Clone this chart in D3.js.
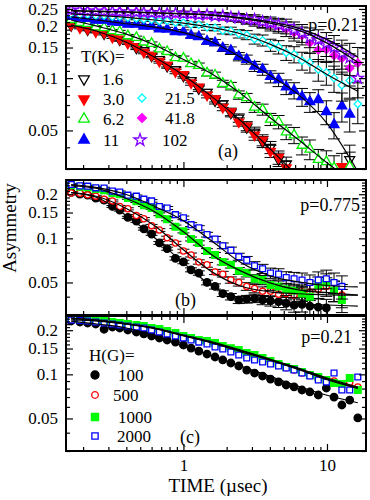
<!DOCTYPE html>
<html>
<head>
<meta charset="utf-8">
<script src="https://cdn.jsdelivr.net/npm/d3@7"></script>
<style>
body { margin: 0; background: #fff; }
text { font-family: "Liberation Serif", "Times New Roman", serif; fill: #000; }
</style>
</head>
<body>
<div id="chart"></div>
<script>
var width = 370, height = 500;

// time grid (usec) shared by the data sets
var times = [0.165,0.19,0.215,0.245,0.28,0.32,0.36,0.41,0.47,0.53,0.6,0.68,0.77,0.88,1.0,1.13,1.28,1.46,1.66,1.88,2.14,2.43,2.76,3.13,3.56,4.04,4.6,5.2,5.9,6.7,7.6,8.7,9.9,11.2,12.7,14.4,16.4];
var fitTimes = [0.165,0.25,0.4,0.63,1.0,1.6,2.5,4.0,6.3,10,16.4];

// panel (a): p=0.21, temperatures
var tempLabels = ["1.6","3.0","6.2","11","21.5","41.8","102"];
var a_1_6  = [0.201,0.198,0.190,0.187,0.180,0.176,0.166,0.162,0.149,0.144,0.134,0.128,0.117,0.112,0.103,0.097,0.087,0.083,0.074,0.071,0.063,0.059,0.052,0.049,0.043,0.040,0.034,0.032,null,null,null,null,null,null,null,0.034,null];
var a_3_0  = [0.203,0.195,0.192,0.185,0.183,0.172,0.168,0.159,0.152,0.141,0.136,0.125,0.119,0.109,0.105,0.094,0.089,0.080,0.076,0.068,0.064,0.056,0.053,0.047,0.044,0.038,0.035,0.0305,null,null,null,null,null,null,0.031,null,null];
var a_6_2  = [0.217,0.209,0.206,0.197,0.195,0.187,0.185,0.175,0.171,0.161,0.158,0.147,0.142,0.131,0.130,0.121,0.118,0.107,0.104,0.093,0.090,0.080,0.077,0.068,0.066,0.058,0.056,0.049,0.047,0.041,0.039,0.034,0.033,0.0305,null,0.031,null];
var a_11   = [0.226,0.221,0.220,0.215,0.215,0.210,0.209,0.204,0.204,0.199,0.199,0.192,0.191,0.185,0.184,0.176,0.173,0.163,0.160,0.149,0.144,0.133,0.128,0.117,0.112,0.102,0.098,0.089,0.085,0.078,0.073,0.075,0.064,0.054,0.069,0.062,null];
var a_21_5 = [0.235,0.232,0.232,0.229,0.229,0.226,0.226,0.223,0.221,0.218,0.217,0.213,0.214,0.209,0.208,0.203,0.203,0.196,0.195,0.188,0.187,0.180,0.177,0.168,0.165,0.155,0.151,0.140,0.137,0.126,0.123,0.112,0.108,0.100,0.091,0.097,0.071];
var a_41_8 = [0.246,0.244,0.244,0.242,0.244,0.241,0.242,0.239,0.241,0.238,0.239,0.236,0.237,0.235,0.236,0.233,0.233,0.230,0.230,0.226,0.225,0.221,0.218,0.213,0.209,0.203,0.199,0.192,0.183,0.176,0.160,0.145,0.146,0.135,0.130,0.114,0.122];
var a_102  = [0.247,0.245,0.243,0.243,0.242,0.242,0.240,0.240,0.239,0.239,0.237,0.237,0.235,0.236,0.234,0.234,0.231,0.232,0.228,0.228,0.224,0.223,0.218,0.217,0.211,0.208,0.203,0.199,0.190,0.182,0.172,0.166,0.158,0.150,0.139,0.131,0.100];
var errA   = [0.015,0.015,0.015,0.016,0.016,0.017,0.018,0.019,0.02,0.021,0.022,0.024,0.026,0.028,0.03,0.032,0.035,0.038,0.041,0.045,0.05,0.055,0.06,0.066,0.073,0.08,0.088,0.097,0.107,0.118,0.13,0.143,0.157,0.172,0.19,0.21,0.23];
var fitA_low  = [0.202,0.186,0.161,0.132,0.104,0.0775,0.057,0.0393,0.027,null,null];
var fitA_6_2  = [0.216,0.199,0.179,0.155,0.128,0.105,0.0817,0.0594,0.0443,0.0326,0.024];
var fitA_11   = [0.225,0.216,0.2055,0.1965,0.1827,0.161,0.132,0.104,0.0806,0.0549,0.029];
var fitA_21_5 = [0.234,0.2295,0.2235,0.216,0.207,0.195,0.180,0.157,0.132,0.105,0.084];
var fitA_41_8 = [0.2434,0.2418,0.240,0.237,0.234,0.2295,0.2205,0.207,0.189,0.159,0.1235];
var fitA_102  = [0.245,0.243,0.241,0.238,0.235,0.231,0.223,0.211,0.194,0.167,0.132];

// panel (b): p=0.775, fields
var fieldLabels = ["100","500","1000","2000"];
var b_100  = [0.206,0.200,0.197,0.188,0.182,0.165,0.156,0.139,0.131,0.116,0.107,0.093,0.085,0.073,0.069,0.061,0.058,0.050,0.047,0.042,0.040,0.038,0.0385,0.039,0.038,0.0375,0.037,0.036,0.035,0.0355,0.0345,0.034,0.0335,null,null];
var b_500  = [0.204,0.203,0.198,0.194,0.185,0.180,0.165,0.159,0.143,0.136,0.122,0.114,0.101,0.093,0.082,0.077,0.069,0.066,0.059,0.057,0.052,0.050,0.047,0.0455,0.0435,0.0435,0.0415,0.042,0.041,0.043,0.043,0.045,0.047,0.044,0.041];
var b_1000 = [0.230,0.225,0.223,0.217,0.213,0.204,0.200,0.188,0.179,0.168,0.161,0.146,0.135,0.120,0.112,0.099,0.093,0.082,0.077,0.069,0.066,0.060,0.058,0.053,0.052,0.048,0.047,0.045,0.044,0.042,0.040,0.048,0.050,0.044,0.038];
var b_2000 = [0.233,0.228,0.227,0.221,0.220,0.210,0.207,0.197,0.194,0.185,0.180,0.165,0.161,0.145,0.138,0.124,0.118,0.106,0.099,0.089,0.083,0.075,0.071,0.065,0.062,0.058,0.057,0.054,0.053,0.052,0.050,0.052,0.053,0.050,0.047];
var errB   = [0.012,0.012,0.013,0.013,0.014,0.015,0.016,0.017,0.018,0.019,0.02,0.022,0.024,0.026,0.028,0.031,0.034,0.037,0.041,0.045,0.05,0.055,0.06,0.066,0.072,0.08,0.088,0.096,0.105,0.115,0.125,0.135,0.145,0.16,0.18];
var fitB_100  = [0.205,0.190,0.143,0.101,0.068,0.047,0.0392,0.0368,0.0356,0.0351,0.0345];
var fitB_500  = [0.205,0.193,0.160,0.122,0.0835,0.0586,0.0473,0.0432,0.0419,0.0412,0.041];
var fitB_1000 = [0.229,0.219,0.187,0.152,0.111,0.0765,0.060,0.0497,0.0445,0.0426,0.041];
var fitB_2000 = [0.233,0.222,0.199,0.165,0.132,0.0948,0.0686,0.0555,0.0505,0.0477,0.0466];

// panel (c): p=0.21, fields
var c_100  = [0.2311,0.2275,0.224,0.2205,0.203,0.2103,0.207,0.2006,0.1944,0.1885,0.1826,0.177,0.1715,0.166,0.1585,0.151,0.1442,0.1376,0.1313,0.1253,0.1195,0.114,0.107,0.1021,0.0974,0.0929,0.0887,0.0846,0.082,0.0782,0.0758,0.0723,0.0807,0.070,0.0618,0.0668,0.0504];
var c_500  = [0.240,0.237,0.235,0.232,0.229,0.226,0.222,0.219,0.215,0.211,0.205,0.201,0.195,0.189,0.181,0.175,0.169,0.165,0.159,0.153,0.148,0.143,0.137,0.132,0.127,0.121,0.116,0.111,0.107,0.102,0.098,0.094,0.090,0.090,0.084,0.088,0.082];
var c_1000 = [0.242,0.2386,0.237,0.2348,0.2311,0.2275,0.224,0.2205,0.217,0.2137,0.207,0.2038,0.1975,0.1914,0.1826,0.177,0.1715,0.1687,0.1636,0.156,0.151,0.1466,0.1398,0.1355,0.1292,0.1233,0.1177,0.1122,0.1087,0.1038,0.099,0.0959,0.0915,0.0873,0.0859,0.0944,0.0782];
var c_2000 = [0.2348,0.233,0.2311,0.2275,0.224,0.2205,0.217,0.2137,0.2103,0.207,0.2006,0.1944,0.1885,0.1826,0.177,0.1715,0.166,0.161,0.1536,0.1489,0.142,0.1355,0.1292,0.1253,0.1214,0.1177,0.114,0.1104,0.107,0.1021,0.0974,0.0915,0.0887,0.1021,0.0782,0.0782,0.0959];
var fitC_100  = [0.231,0.2205,0.207,0.183,0.156,0.133,0.114,0.097,0.083,0.072,0.064];
var fitC_500  = [0.24,0.233,0.221,0.206,0.184,0.164,0.145,0.126,0.109,0.093,0.081];
var fitC_1000 = [0.242,0.235,0.222,0.207,0.1855,0.166,0.1466,0.127,0.1105,0.0944,0.082];
var fitC_2000 = [0.235,0.231,0.220,0.205,0.183,0.163,0.143,0.125,0.108,0.092,0.080];

// axis ticks
var yMajor = [0.05,0.1,0.15,0.2,0.25];
var yMajorLabels = ["0.05","0.1","0.15","0.2","0.25"];
var yMinor = [0.03,0.04,0.06,0.07,0.08,0.09,0.11,0.12,0.13,0.14,0.16,0.17,0.18,0.19,0.21,0.22,0.23,0.24];
var xMajor = [1,10];
var xMajorLabels = ["1","10"];
var xMinor = [0.2,0.3,0.4,0.5,0.6,0.7,0.8,0.9,2,3,4,5,6,7,8,9];

var left = 66, right = 366;
var x_scale = d3.scaleLog().domain([0.152, 18.7]).range([left, right]);

var svg = d3.select("#chart").append("svg")
    .attr("width", width)
    .attr("height", height);

// marker styles
var sym = {
  t16:   {type: d3.symbolTriangle, size: 42, rot: 180, fill: "#fff", stroke: "#000"},
  t30:   {type: d3.symbolTriangle, size: 42, rot: 180, fill: "#ff0000", stroke: "#ff0000"},
  t62:   {type: d3.symbolTriangle, size: 42, rot: 0, fill: "#fff", stroke: "#00ee00"},
  t11:   {type: d3.symbolTriangle, size: 42, rot: 0, fill: "#0000ff", stroke: "#0000ff"},
  t215:  {type: d3.symbolSquare, size: 28, rot: 45, fill: "#fff", stroke: "#00ffff"},
  t418:  {type: d3.symbolSquare, size: 34, rot: 45, fill: "#ff00ff", stroke: "#ff00ff"},
  t102:  {type: d3.symbolStar, size: 40, rot: 0, fill: "#fff", stroke: "#8000ff"},
  h100:  {type: d3.symbolCircle, size: 44, rot: 0, fill: "#000", stroke: "#000"},
  h500:  {type: d3.symbolCircle, size: 30, rot: 0, fill: "#fff", stroke: "#ff0000"},
  h1000: {type: d3.symbolSquare, size: 44, rot: 0, fill: "#00ff00", stroke: "#00ff00"},
  h2000: {type: d3.symbolSquare, size: 34, rot: 0, fill: "#fff", stroke: "#0000ff"}
};

var panels = [
  {id: "a", top: 6, bottom: 169, dom: [0.03, 0.26], nMajor: 5},
  {id: "b", top: 180, bottom: 315, dom: [0.03, 0.25], nMajor: 4},
  {id: "c", top: 316, bottom: 451, dom: [0.03, 0.25], nMajor: 4}
];

panels.forEach(function(p) {
  p.y = d3.scaleLog().domain(p.dom).range([p.bottom, p.top]);
  svg.append("clipPath").attr("id", "clip_" + p.id)
    .append("rect").attr("x", left).attr("y", p.top)
    .attr("width", right - left).attr("height", p.bottom - p.top);
  p.g = svg.append("g").attr("clip-path", "url(#clip_" + p.id + ")");
});

function draw_series(p, vals, errs, s) {
  var pts = [];
  vals.forEach(function(v, i) {
    if (v != null) pts.push([times[i], v, errs ? errs[i] : 0]);
  });
  if (errs) {
    var eb = p.g.append("g").attr("stroke", "#000").attr("stroke-width", 1);
    pts.forEach(function(d) {
      var cx = x_scale(d[0]);
      var y1 = p.y(d[1] * (1 + d[2])), y2 = p.y(d[1] * (1 - d[2]));
      eb.append("line").attr("x1", cx).attr("x2", cx).attr("y1", y1).attr("y2", y2);
      eb.append("line").attr("x1", cx - 6).attr("x2", cx + 6).attr("y1", y1).attr("y2", y1);
      eb.append("line").attr("x1", cx - 6).attr("x2", cx + 6).attr("y1", y2).attr("y2", y2);
    });
  }
  p.g.append("g").selectAll("path").data(pts).enter().append("path")
    .attr("d", d3.symbol().type(s.type).size(s.size))
    .attr("transform", function(d) {
      return "translate(" + x_scale(d[0]) + "," + p.y(d[1]) + ") rotate(" + s.rot + ")";
    })
    .attr("fill", s.fill)
    .attr("stroke", s.stroke)
    .attr("stroke-width", 1.3);
}

function draw_fit(p, vals) {
  var line = d3.line()
    .defined(function(d) { return d[1] != null; })
    .curve(d3.curveMonotoneX)
    .x(function(d) { return x_scale(d[0]); })
    .y(function(d) { return p.y(d[1]); });
  p.g.append("path")
    .datum(fitTimes.map(function(t, i) { return [t, vals[i]]; }))
    .attr("fill", "none")
    .attr("stroke", "#000")
    .attr("stroke-width", 1.2)
    .attr("d", line);
}

// panel (a)
var pa = panels[0];
draw_series(pa, a_1_6, errA, sym.t16);
draw_series(pa, a_3_0, errA, sym.t30);
draw_series(pa, a_6_2, errA, sym.t62);
draw_series(pa, a_11, errA, sym.t11);
draw_series(pa, a_21_5, errA, sym.t215);
draw_series(pa, a_41_8, errA, sym.t418);
draw_series(pa, a_102, errA, sym.t102);
[fitA_low, fitA_6_2, fitA_11, fitA_21_5, fitA_41_8, fitA_102].forEach(function(f) { draw_fit(pa, f); });

// panel (b)
var pb = panels[1];
draw_series(pb, b_100, errB, sym.h100);
draw_series(pb, b_500, errB, sym.h500);
draw_series(pb, b_1000, errB, sym.h1000);
draw_series(pb, b_2000, errB, sym.h2000);
[fitB_100, fitB_500, fitB_1000, fitB_2000].forEach(function(f) { draw_fit(pb, f); });

// panel (c)
var pc = panels[2];
draw_series(pc, c_100, null, sym.h100);
draw_series(pc, c_500, null, sym.h500);
draw_series(pc, c_1000, null, sym.h1000);
draw_series(pc, c_2000, null, sym.h2000);
[fitC_100, fitC_500, fitC_1000, fitC_2000].forEach(function(f) { draw_fit(pc, f); });

// axes and frames
function style_axis(sel) {
  sel.select(".domain").remove();
  sel.selectAll("line").attr("stroke-width", 1.2);
  sel.attr("font-family", "Liberation Serif, Times New Roman, serif").attr("font-size", 17);
  sel.selectAll("text").attr("fill", "#000");
}

panels.forEach(function(p, k) {
  var maj = yMajor.slice(0, p.nMajor);
  svg.append("g").attr("transform", "translate(" + left + ",0)")
    .call(d3.axisLeft(p.y).tickValues(maj).tickSize(-7).tickPadding(8)
      .tickFormat(function(d, i) { return yMajorLabels[i]; }))
    .call(style_axis);
  svg.append("g").attr("transform", "translate(" + left + ",0)")
    .call(d3.axisLeft(p.y).tickValues(yMinor).tickSize(-4).tickFormat(""))
    .call(style_axis);
  svg.append("g").attr("transform", "translate(" + right + ",0)")
    .call(d3.axisRight(p.y).tickValues(maj).tickSize(-7).tickFormat(""))
    .call(style_axis);
  svg.append("g").attr("transform", "translate(" + right + ",0)")
    .call(d3.axisRight(p.y).tickValues(yMinor).tickSize(-4).tickFormat(""))
    .call(style_axis);

  var last = (k == panels.length - 1);
  svg.append("g").attr("transform", "translate(0," + p.bottom + ")")
    .call(d3.axisBottom(x_scale).tickValues(xMajor).tickSize(-7).tickPadding(8)
      .tickFormat(function(d, i) { return last ? xMajorLabels[i] : ""; }))
    .call(style_axis);
  svg.append("g").attr("transform", "translate(0," + p.bottom + ")")
    .call(d3.axisBottom(x_scale).tickValues(xMinor).tickSize(-4).tickFormat(""))
    .call(style_axis);
  svg.append("g").attr("transform", "translate(0," + p.top + ")")
    .call(d3.axisTop(x_scale).tickValues(xMajor).tickSize(-7).tickFormat(""))
    .call(style_axis);
  svg.append("g").attr("transform", "translate(0," + p.top + ")")
    .call(d3.axisTop(x_scale).tickValues(xMinor).tickSize(-4).tickFormat(""))
    .call(style_axis);

  svg.append("rect")
    .attr("x", left).attr("y", p.top)
    .attr("width", right - left).attr("height", p.bottom - p.top)
    .attr("fill", "none").attr("stroke", "#000").attr("stroke-width", 2);
});

function label(txt, x, y, size, anchor) {
  return svg.append("text").attr("x", x).attr("y", y)
    .attr("font-size", size).attr("text-anchor", anchor || "start").text(txt);
}

function legend_symbol(s, cx, cy) {
  svg.append("path")
    .attr("d", d3.symbol().type(s.type).size(s.size * 1.15))
    .attr("transform", "translate(" + cx + "," + cy + ") rotate(" + s.rot + ")")
    .attr("fill", s.fill).attr("stroke", s.stroke).attr("stroke-width", 1.3);
}

// panel (a) texts and legend
label("p=0.21", 359, 31, 18, "end");
label("(a)", 218, 157, 18);
label("T(K)=", 81, 62, 17);
var legA = [
  [sym.t16, 84, 79, 102, tempLabels[0]],
  [sym.t30, 84, 99, 103, tempLabels[1]],
  [sym.t62, 84, 119, 103, tempLabels[2]],
  [sym.t11, 84, 140, 103, tempLabels[3]],
  [sym.t215, 142, 98, 165, tempLabels[4]],
  [sym.t418, 142, 118, 165, tempLabels[5]],
  [sym.t102, 140, 140, 162, tempLabels[6]]
];
legA.forEach(function(e) {
  legend_symbol(e[0], e[1], e[2]);
  label(e[4], e[3], e[2] + 6, 17);
});

// panel (b) texts
label("p=0.775", 360, 211, 18, "end");
label("(b)", 175, 306, 18);

// panel (c) texts and legend
label("p=0.21", 352, 343, 18, "end");
label("(c)", 180, 443, 18);
label("H(G)=", 89, 361, 17);
var legC = [
  [sym.h100, 95, 375, 118, fieldLabels[0]],
  [sym.h500, 95, 395, 113, fieldLabels[1]],
  [sym.h1000, 95, 417, 118, fieldLabels[2]],
  [sym.h2000, 95, 436, 117, fieldLabels[3]]
];
legC.forEach(function(e) {
  legend_symbol(e[0], e[1], e[2]);
  label(e[4], e[3], e[2] + 6, 17);
});

// axis titles
label("TIME (\u00b5sec)", 218, 492, 19, "middle");
svg.append("text")
  .attr("transform", "translate(16,228) rotate(-90)")
  .attr("font-size", 19)
  .attr("text-anchor", "middle")
  .text("Asymmetry");
</script>
</body>
</html>
